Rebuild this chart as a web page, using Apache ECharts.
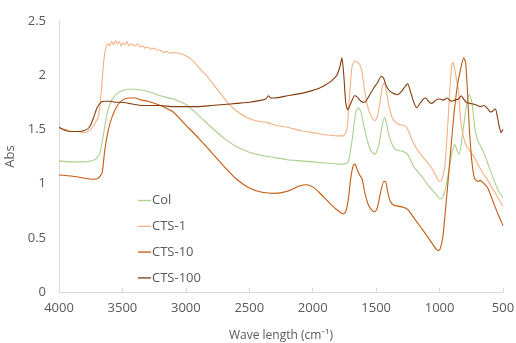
<!DOCTYPE html>
<html>
<head>
<meta charset="utf-8">
<title>Abs</title>
<script src="https://cdn.jsdelivr.net/npm/echarts@6/dist/echarts.min.js"></script>
<style>
	html, body { margin: 0; padding: 0; background: #fff; }
	#charts { width: 516px; height: 343px; }
</style>
</head>
<body>
<div id="charts"></div>
<script>
// 坐标轴刻度
var xTicks = [500, 4000, 500];   // min, max, interval
var yTicks = [0, 2.5, 0.5];

// 图例名称
var seriesNames = ['Col', 'CTS-1', 'CTS-10', 'CTS-100'];

// Col
var colX = [4000, 3900, 3800, 3720, 3680, 3650, 3620, 3580, 3530, 3460, 3400, 3300, 3200, 3100, 3000, 2900, 2800, 2700, 2600, 2500, 2400, 2300, 2200, 2100, 2000, 1900, 1800, 1760, 1720, 1690, 1660, 1640, 1620, 1600, 1570, 1540, 1510, 1480, 1455, 1435, 1420, 1400, 1370, 1340, 1300, 1260, 1230, 1200, 1150, 1100, 1050, 1020, 1000, 985, 960, 930, 900, 880, 860, 845, 820, 790, 765, 745, 720, 700, 670, 640, 600, 560, 530, 500];
var colY = [1.21, 1.2, 1.2, 1.22, 1.27, 1.45, 1.65, 1.78, 1.84, 1.87, 1.87, 1.85, 1.81, 1.78, 1.73, 1.63, 1.52, 1.42, 1.34, 1.29, 1.26, 1.24, 1.22, 1.21, 1.2, 1.19, 1.18, 1.18, 1.2, 1.4, 1.66, 1.7, 1.66, 1.55, 1.4, 1.3, 1.27, 1.35, 1.52, 1.61, 1.57, 1.45, 1.35, 1.31, 1.3, 1.28, 1.22, 1.15, 1.08, 1.0, 0.93, 0.89, 0.86, 0.86, 0.92, 1.1, 1.3, 1.36, 1.3, 1.27, 1.45, 1.7, 1.82, 1.75, 1.5, 1.4, 1.33, 1.25, 1.12, 1.0, 0.92, 0.87];

// CTS-1
var cts1X = [4000, 3950, 3900, 3850, 3800, 3750, 3720, 3690, 3670, 3650, 3630, 3615, 3600, 3585, 3570, 3555, 3540, 3525, 3510, 3495, 3480, 3465, 3450, 3435, 3420, 3400, 3380, 3360, 3340, 3320, 3300, 3275, 3250, 3225, 3200, 3175, 3150, 3125, 3100, 3050, 3000, 2960, 2920, 2880, 2840, 2800, 2760, 2720, 2680, 2640, 2600, 2550, 2500, 2450, 2400, 2350, 2300, 2200, 2100, 2000, 1900, 1800, 1760, 1730, 1710, 1690, 1670, 1650, 1630, 1610, 1590, 1560, 1530, 1510, 1490, 1470, 1450, 1435, 1420, 1400, 1370, 1330, 1290, 1260, 1230, 1200, 1150, 1100, 1050, 1020, 1000, 985, 960, 940, 920, 905, 895, 880, 865, 850, 835, 815, 790, 760, 730, 700, 660, 620, 580, 540, 500];
var cts1Y = [1.51, 1.5, 1.48, 1.48, 1.47, 1.5, 1.55, 1.62, 1.8, 2.1, 2.26, 2.29, 2.27, 2.31, 2.28, 2.32, 2.29, 2.31, 2.27, 2.3, 2.28, 2.31, 2.27, 2.29, 2.28, 2.27, 2.29, 2.26, 2.27, 2.25, 2.26, 2.24, 2.25, 2.23, 2.23, 2.21, 2.22, 2.2, 2.21, 2.2, 2.18, 2.15, 2.1, 2.05, 2.0, 1.94, 1.88, 1.82, 1.76, 1.71, 1.67, 1.63, 1.6, 1.58, 1.57, 1.56, 1.54, 1.52, 1.49, 1.47, 1.45, 1.44, 1.44, 1.5, 1.8, 2.08, 2.13, 2.12, 2.1, 2.02, 1.85, 1.68, 1.6, 1.58, 1.62, 1.75, 1.9, 1.93, 1.86, 1.72, 1.6, 1.55, 1.54, 1.52, 1.44, 1.36, 1.27, 1.2, 1.12, 1.05, 1.02, 1.03, 1.15, 1.45, 1.85, 2.08, 2.12, 2.05, 1.95, 1.85, 1.6, 1.45, 1.35, 1.3, 1.25, 1.18, 1.1, 1.03, 0.95, 0.87, 0.79];

// CTS-10
var cts10X = [4000, 3900, 3800, 3730, 3690, 3660, 3640, 3610, 3580, 3540, 3500, 3450, 3400, 3350, 3300, 3200, 3100, 3000, 2900, 2800, 2700, 2600, 2500, 2400, 2300, 2200, 2100, 2050, 2000, 1950, 1900, 1850, 1800, 1760, 1740, 1720, 1700, 1680, 1665, 1650, 1630, 1610, 1590, 1560, 1530, 1510, 1490, 1465, 1440, 1425, 1410, 1390, 1360, 1320, 1280, 1250, 1200, 1150, 1100, 1060, 1030, 1010, 995, 975, 950, 920, 890, 860, 830, 810, 795, 780, 765, 745, 725, 700, 680, 650, 620, 580, 540, 510, 500];
var cts10Y = [1.08, 1.07, 1.05, 1.04, 1.05, 1.1, 1.3, 1.5, 1.62, 1.72, 1.77, 1.79, 1.79, 1.77, 1.76, 1.72, 1.66, 1.54, 1.42, 1.29, 1.16, 1.04, 0.96, 0.92, 0.91, 0.93, 0.98, 0.99, 0.97, 0.92, 0.86, 0.8, 0.75, 0.72, 0.74, 0.85, 1.05, 1.17, 1.18, 1.13, 1.08, 1.04, 0.92, 0.8, 0.75, 0.74, 0.78, 0.92, 1.02, 1.02, 0.93, 0.84, 0.8, 0.79, 0.78, 0.76, 0.68, 0.6, 0.52, 0.45, 0.4, 0.38, 0.4, 0.5, 0.8, 1.2, 1.6, 1.9, 2.08, 2.16, 2.12, 1.85, 1.5, 1.2, 1.05, 1.02, 1.03, 1.0, 0.96, 0.84, 0.72, 0.64, 0.61];

// CTS-100
var cts100X = [4000, 3950, 3900, 3850, 3800, 3760, 3730, 3700, 3670, 3640, 3600, 3550, 3500, 3450, 3400, 3350, 3300, 3200, 3100, 3000, 2900, 2800, 2700, 2600, 2500, 2400, 2370, 2350, 2330, 2300, 2200, 2100, 2000, 1950, 1900, 1850, 1810, 1785, 1770, 1755, 1740, 1725, 1700, 1670, 1650, 1620, 1590, 1560, 1520, 1490, 1460, 1440, 1420, 1390, 1360, 1330, 1300, 1270, 1250, 1230, 1200, 1180, 1160, 1130, 1110, 1080, 1060, 1030, 1000, 970, 940, 910, 880, 850, 830, 810, 790, 760, 720, 680, 650, 620, 600, 580, 560, 545, 530, 515, 505, 500];
var cts100Y = [1.52, 1.49, 1.48, 1.48, 1.49, 1.52, 1.6, 1.7, 1.75, 1.76, 1.76, 1.75, 1.75, 1.74, 1.73, 1.72, 1.72, 1.72, 1.71, 1.71, 1.71, 1.72, 1.73, 1.74, 1.75, 1.77, 1.78, 1.81, 1.79, 1.79, 1.81, 1.83, 1.86, 1.88, 1.91, 1.95, 2.0, 2.08, 2.16, 2.0, 1.75, 1.68, 1.74, 1.81, 1.8, 1.76, 1.75, 1.8, 1.88, 1.93, 1.99, 1.97, 1.9, 1.85, 1.83, 1.82, 1.85, 1.9, 1.92, 1.85, 1.74, 1.7, 1.73, 1.78, 1.79, 1.75, 1.74, 1.77, 1.78, 1.77, 1.79, 1.76, 1.77, 1.78, 1.81, 1.78, 1.75, 1.74, 1.73, 1.71, 1.72, 1.69, 1.66, 1.67, 1.69, 1.62, 1.53, 1.47, 1.49, 1.5];

var seriesColors = ['#a9d18e', '#f4b183', '#c55a11', '#843c0c'];

var AbsChart = {

	init: function () {
		this.renderChart();
	},

	// 组合 [x, y]
	zip: function (xs, ys) {
		var out = [];
		for (var i = 0; i < xs.length; i++) {
			out.push([xs[i], ys[i]]);
		}
		return out;
	},

	renderChart: function () {
		var _self = this;
		var myChart = echarts.init(document.getElementById('charts'), null, {renderer: 'canvas'});
		var font = 'Open Sans';
		var textColor = '#595959';
		var allData = [
			_self.zip(colX, colY),
			_self.zip(cts1X, cts1Y),
			_self.zip(cts10X, cts10Y),
			_self.zip(cts100X, cts100Y)
		];

		var series = [];
		for (var i = 0; i < seriesNames.length; i++) {
			series.push({
				name: seriesNames[i],
				type: 'line',
				symbol: 'none',
				smooth: 0.2,
				data: allData[i],
				lineStyle: { color: seriesColors[i], width: 1.1 },
				itemStyle: { color: seriesColors[i] },
				z: 2 + i
			});
		}

		var option = {
			animation: false,
			backgroundColor: '#fff',
			textStyle: { fontFamily: font },
			grid: {
				left: 59,
				right: 13,
				top: 21,
				bottom: 51,
				containLabel: false,
				outerBoundsMode: 'none'
			},
			legend: {
				orient: 'vertical',
				left: 133,
				top: 189,
				icon: 'rect',
				itemWidth: 13,
				itemHeight: 1.3,
				itemGap: 12.8,
				textStyle: { color: textColor, fontSize: 13, fontFamily: font, padding: [0, 0, 0, -4] },
				data: seriesNames
			},
			xAxis: {
				type: 'value',
				inverse: true,
				min: xTicks[0],
				max: xTicks[1],
				interval: xTicks[2],
				name: 'Wave length (cm⁻¹)',
				nameLocation: 'middle',
				nameGap: 38,
				nameTextStyle: { color: textColor, fontSize: 12, fontFamily: font },
				axisLine: { show: true, lineStyle: { color: '#d9d9d9', width: 1 } },
				axisTick: { show: true, inside: true, length: 4, lineStyle: { color: '#d9d9d9' } },
				axisLabel: {
					color: textColor, fontSize: 13, margin: 10, fontFamily: font,
					formatter: function (v) { return String(v); }
				},
				splitLine: { show: false }
			},
			yAxis: {
				type: 'value',
				min: yTicks[0],
				max: yTicks[1],
				interval: yTicks[2],
				name: 'Abs',
				nameLocation: 'middle',
				nameGap: 32,
				nameRotate: 90,
				nameTextStyle: { color: textColor, fontSize: 13, fontFamily: font },
				axisLine: { show: true, lineStyle: { color: '#d9d9d9', width: 1 } },
				axisTick: { show: false },
				axisLabel: {
					color: textColor, fontSize: 13, margin: 13, fontFamily: font,
					formatter: function (v) { return String(v); }
				},
				splitLine: { show: false }
			},
			series: series
		};

		myChart.setOption(option);
	}
};

AbsChart.init();
</script>
</body>
</html>
